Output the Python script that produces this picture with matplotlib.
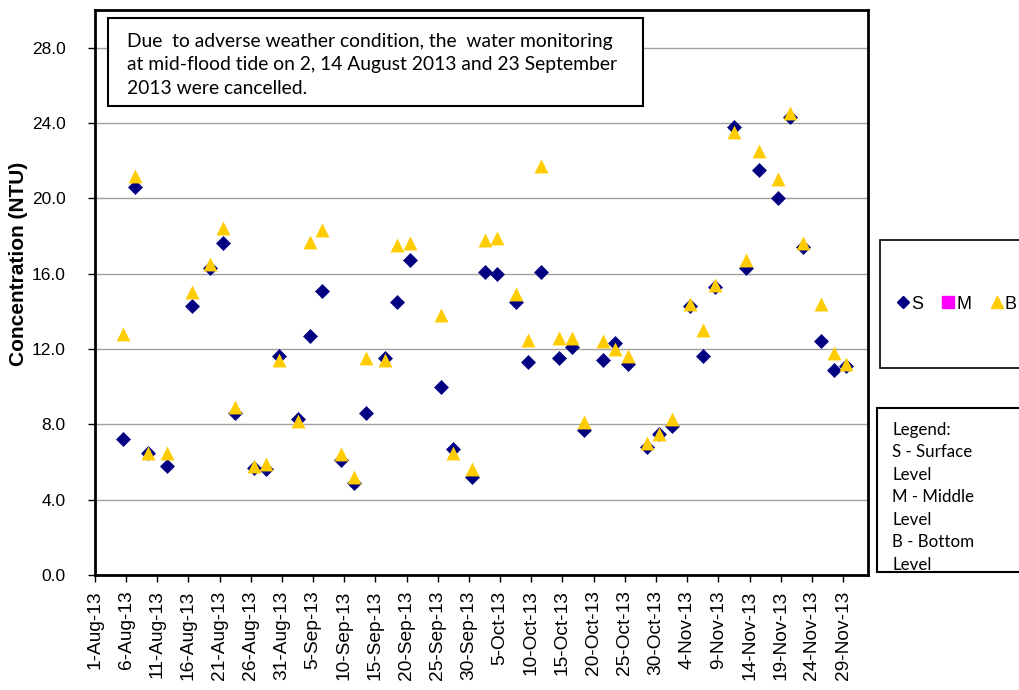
import numpy as np
import pandas as pd
import matplotlib
matplotlib.use("Agg")
import matplotlib.pyplot as plt
import matplotlib.dates as mdates
from matplotlib.patches import Rectangle
from matplotlib.lines import Line2D

# sampling dates (Mon/Wed/Fri, mid-flood tide)
dates = pd.to_datetime([
    "2013-08-05", "2013-08-07", "2013-08-09", "2013-08-12", "2013-08-16", "2013-08-19",
    "2013-08-21", "2013-08-23", "2013-08-26", "2013-08-28", "2013-08-30",
    "2013-09-02", "2013-09-04", "2013-09-06", "2013-09-09", "2013-09-11", "2013-09-13",
    "2013-09-16", "2013-09-18", "2013-09-20", "2013-09-25", "2013-09-27", "2013-09-30",
    "2013-10-02", "2013-10-04", "2013-10-07", "2013-10-09", "2013-10-11", "2013-10-14",
    "2013-10-16", "2013-10-18", "2013-10-21", "2013-10-23", "2013-10-25", "2013-10-28",
    "2013-10-30",
    "2013-11-01", "2013-11-04", "2013-11-06", "2013-11-08", "2013-11-11", "2013-11-13",
    "2013-11-15", "2013-11-18", "2013-11-20", "2013-11-22", "2013-11-25", "2013-11-27",
    "2013-11-29",
])

# surface level turbidity (NTU)
surface = [
    7.2, 20.6, 6.5, 5.8, 14.3, 16.3, 17.6, 8.6, 5.7, 5.6, 11.6,
    8.3, 12.7, 15.1, 6.1, 4.9, 8.6, 11.5, 14.5, 16.7, 10.0, 6.7, 5.2,
    16.1, 16.0, 14.5, 11.3, 16.1, 11.5, 12.1, 7.7, 11.4, 12.3, 11.2, 6.8, 7.5,
    7.9, 14.3, 11.6, 15.3, 23.8, 16.3, 21.5, 20.0, 24.3, 17.4, 12.4, 10.9, 11.1,
]

# bottom level turbidity (NTU)
bottom = [
    12.8, 21.2, 6.5, 6.5, 15.0, 16.5, 18.4, 8.9, 5.8, 5.9, 11.4,
    8.2, 17.7, 18.3, 6.4, 5.2, 11.5, 11.4, 17.5, 17.6, 13.8, 6.5, 5.6,
    17.8, 17.9, 14.9, 12.5, 21.7, 12.6, 12.6, 8.1, 12.4, 12.0, 11.6, 7.0, 7.5,
    8.3, 14.4, 13.0, 15.4, 23.5, 16.7, 22.5, 21.0, 24.5, 17.6, 14.4, 11.8, 11.2,
]

tick_dates = pd.date_range("2013-08-01", "2013-11-29", freq="5D")
y_ticks = [0, 4, 8, 12, 16, 20, 24, 28]

S_COL = "#000080"
M_COL = "#FF00FF"
B_COL = "#FFCC00"

plt.rcParams["font.family"] = ["Liberation Sans", "DejaVu Sans"]

fig = plt.figure(figsize=(10.2, 6.9), dpi=100)
ax = fig.add_axes([0.093, 0.1667, 0.758, 0.819])

# samples taken around midday
x = mdates.date2num(dates) + 0.5

ax.scatter(x, surface, marker="D", s=58, color=S_COL, zorder=3, linewidths=0)
ax.scatter(x, bottom, marker="^", s=100, color=B_COL, zorder=4, linewidths=0)

ax.set_xlim(mdates.date2num(pd.Timestamp("2013-08-01")), mdates.date2num(pd.Timestamp("2013-12-03")))
ax.set_ylim(0, 30)
ax.set_yticks(y_ticks)
ax.set_yticklabels(["%.1f" % v for v in y_ticks], fontsize=12.5)
ax.set_xticks(mdates.date2num(tick_dates))
ax.set_xticklabels([d.strftime("%-d-%b-%y") for d in tick_dates], rotation=90, fontsize=13.8)
ax.tick_params(direction="out", length=5, width=1)
ax.tick_params(axis="y", pad=16)
ax.tick_params(axis="x", pad=6)
ax.yaxis.grid(True, color="#A0A0A0", linewidth=1)
ax.set_axisbelow(True)
for sp in ax.spines.values():
    sp.set_linewidth(2)
ax.set_ylabel("Concentration (NTU)", fontsize=15, fontweight="bold")
ax.yaxis.set_label_coords(-0.086, 0.55)

# note box
fig.patches.append(Rectangle((0.1059, 0.8464), 0.5245, 0.1275, transform=fig.transFigure,
                             facecolor="white", edgecolor="black", linewidth=1.5, zorder=5))
fig.text(0.1245, 0.952, "Due  to adverse weather condition, the  water monitoring\n"
         "at mid-flood tide on 2, 14 August 2013 and 23 September\n2013 were cancelled.",
         ha="left", va="top", fontsize=13.9, family=["Lato", "DejaVu Sans"],
         linespacing=1.45, zorder=6)

# series legend box
fig.patches.append(Rectangle((0.863, 0.4667), 0.16, 0.1855, transform=fig.transFigure,
                             facecolor="white", edgecolor="black", linewidth=1.2))
handles = [
    Line2D([], [], marker="D", color=S_COL, linestyle="none", markersize=6),
    Line2D([], [], marker="s", color=M_COL, linestyle="none", markersize=8),
    Line2D([], [], marker="^", color=B_COL, linestyle="none", markersize=8),
]
fig.legend(handles, ["S", "M", "B"], ncol=3, frameon=False, loc="center left",
           bbox_to_anchor=(0.864, 0.559), fontsize=13, handlelength=0.6,
           handletextpad=0.15, columnspacing=1.1)

# level legend box
fig.patches.append(Rectangle((0.86, 0.171), 0.16, 0.2377, transform=fig.transFigure,
                             facecolor="white", edgecolor="black", linewidth=1.5))
fig.text(0.875, 0.389, "Legend:\nS - Surface\nLevel\nM - Middle\nLevel\nB - Bottom\nLevel",
         ha="left", va="top", fontsize=12.2, family=["Lato", "DejaVu Sans"], linespacing=1.5)

fig.savefig("out.png", dpi=100)
